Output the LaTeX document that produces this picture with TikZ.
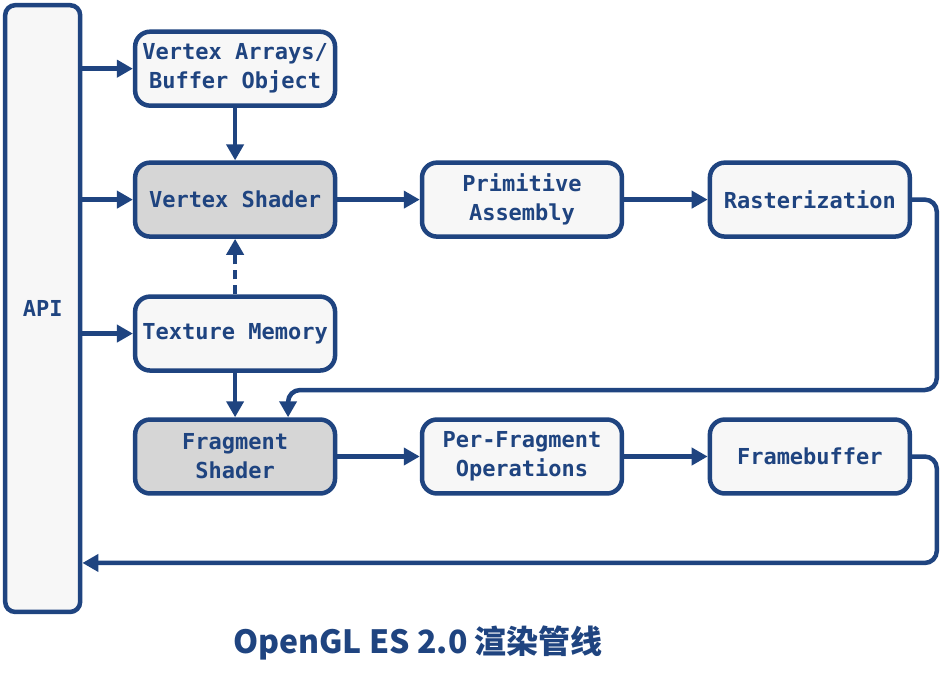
\documentclass[tikz,border=0pt]{standalone}
\usepackage{fontspec}
\setmonofont{DejaVu Sans Mono}
\newfontfamily\cjk{Noto Sans CJK SC}
\usetikzlibrary{arrows.meta}
\definecolor{pipeblue}{RGB}{31,68,128}
\definecolor{boxfill}{RGB}{247,247,247}
\definecolor{shadefill}{RGB}{214,214,214}
\begin{document}
\begin{tikzpicture}[x=1pt,y=-1pt,
  stage/.style={draw=pipeblue,line width=4.5pt,rounded corners=15pt,fill=boxfill,
    minimum width=200pt,minimum height=74pt,inner sep=0pt,align=center,
    text=pipeblue,font=\fontsize{22}{29}\selectfont\ttfamily\bfseries},
  shader/.style={stage,fill=shadefill},
  link/.style={draw=pipeblue,line width=4.5pt,-{Triangle[length=16pt,width=17pt]}}]
\filldraw[color=white] (0,0) rectangle (943,681);
% Drawing boxes
\node[stage,minimum width=75pt,minimum height=607pt,rounded corners=10pt] (api) at (42.5,308.5) {API};
\node[stage] (va) at (235,68.5) {Vertex Arrays/\\Buffer Object};
\node[shader] (vs) at (235,199.5) {Vertex Shader};
\node[stage] (pa) at (522,199.5) {Primitive\\Assembly};
\node[stage] (ras) at (810,199.5) {Rasterization};
\node[stage] (tm) at (235,333.5) {Texture Memory};
\node[shader] (fs) at (235,456.5) {Fragment\\Shader};
\node[stage] (pfo) at (522,456.5) {Per-Fragment\\Operations};
\node[stage] (fb) at (810,456.5) {Framebuffer};
% Done with boxes; drawing arrows
\draw[link] (api.east |- va.west) -- (va.west);
\draw[link] (api.east |- vs.west) -- (vs.west);
\draw[link] (api.east |- tm.west) -- (tm.west);
\draw[link] (va.south) -- (vs.north);
\draw[link,dash pattern=on 9pt off 6pt] (tm.north) -- (vs.south);
\draw[link] (tm.south) -- (fs.north);
\draw[link] (vs.east) -- (pa.west);
\draw[link] (pa.east) -- (ras.west);
\draw[link] (fs.east) -- (pfo.west);
\draw[link] (pfo.east) -- (fb.west);
% Loops round the right side
\coordinate (rasloop) at (937,390);
\coordinate (fbloop) at (937,563);
\draw[link,rounded corners=12pt] (ras.east) -| (rasloop) -| ([xshift=53pt]fs.north);
\draw[link,rounded corners=12pt] (fb.east) -| (fbloop) -- (api.east |- fbloop);
% Done with arrows; drawing title
\node[text=pipeblue,font=\fontsize{32}{36}\selectfont\cjk\bfseries] (title) at (418,643) {OpenGL ES 2.0 渲染管线};
\end{tikzpicture}
\end{document}
